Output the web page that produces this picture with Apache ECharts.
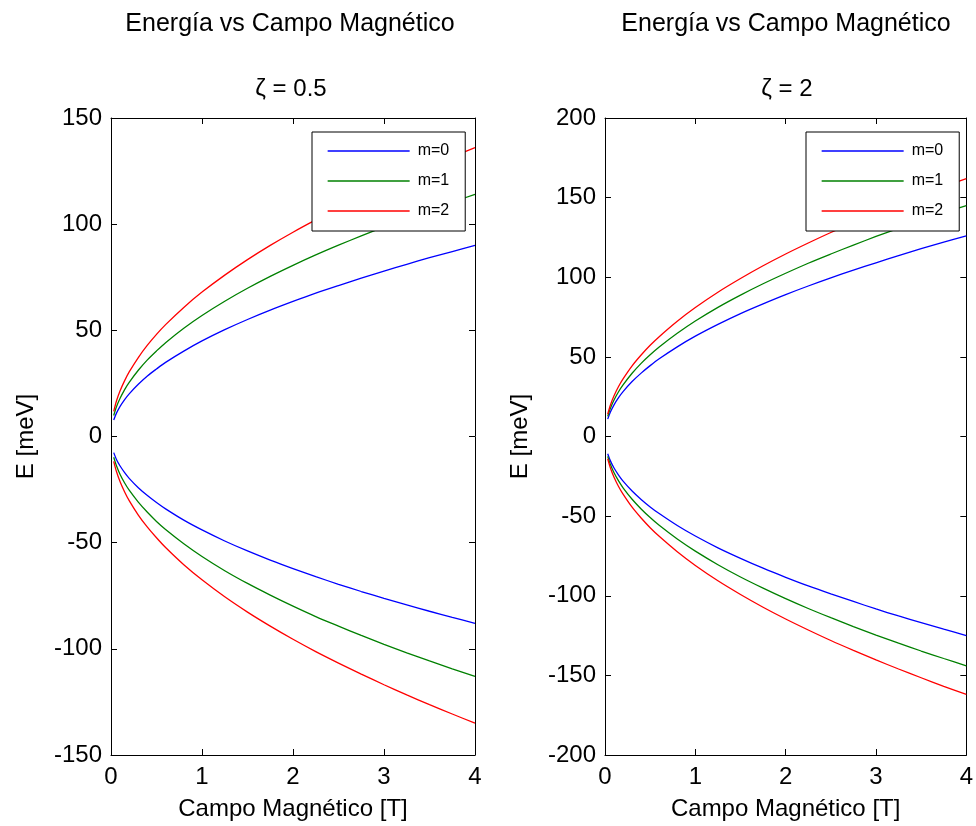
<!DOCTYPE html>
<html>
<head>
<meta charset="utf-8">
<script src="https://cdn.jsdelivr.net/npm/echarts@6/dist/echarts.min.js"></script>
<style>
  html, body { margin: 0; padding: 0; background: #fff; }
  #chart { width: 976px; height: 826px; }
</style>
</head>
<body>
<div id="chart"></div>
<script>
// Magnetic field samples [T]
const campoT = [0.03, 0.06, 0.1, 0.15, 0.2, 0.3, 0.4, 0.5, 0.6, 0.8, 1, 1.25, 1.5, 1.75, 2, 2.25, 2.5, 2.75, 3, 3.25, 3.5, 3.75, 4];

// Energy levels [meV], zeta = 0.5
const z05_m0_pos = [7.8, 11.0, 14.2, 17.4, 20.1, 24.6, 28.5, 31.8, 34.9, 40.2, 45.0, 50.3, 55.1, 59.5, 63.6, 67.5, 71.1, 74.6, 77.9, 81.1, 84.2, 87.1, 90.0];
const z05_m0_neg = [-7.6, -10.8, -13.9, -17.0, -19.7, -24.1, -27.8, -31.1, -34.1, -39.4, -44.0, -49.2, -53.9, -58.2, -62.2, -66.0, -69.6, -73.0, -76.2, -79.3, -82.3, -85.2, -88.0];
const z05_m1_pos = [9.9, 14.0, 18.0, 22.1, 25.5, 31.2, 36.1, 40.3, 44.2, 51.0, 57.0, 63.7, 69.8, 75.4, 80.6, 85.5, 90.1, 94.5, 98.7, 102.8, 106.6, 110.4, 114.0];
const z05_m1_neg = [-9.8, -13.8, -17.9, -21.9, -25.3, -30.9, -35.7, -40.0, -43.8, -50.5, -56.5, -63.2, -69.2, -74.7, -79.9, -84.8, -89.3, -93.7, -97.9, -101.9, -105.7, -109.4, -113.0];
const z05_m2_pos = [11.8, 16.7, 21.5, 26.3, 30.4, 37.2, 43.0, 48.1, 52.7, 60.8, 68.0, 76.0, 83.3, 90.0, 96.2, 102.0, 107.5, 112.8, 117.8, 122.6, 127.2, 131.7, 136.0];
const z05_m2_neg = [-11.7, -16.5, -21.3, -26.1, -30.2, -37.0, -42.7, -47.7, -52.3, -60.4, -67.5, -75.5, -82.7, -89.3, -95.5, -101.3, -106.7, -111.9, -116.9, -121.7, -126.3, -130.7, -135.0];

// Energy levels [meV], zeta = 2
const z2_m0_pos = [10.9, 15.4, 19.9, 24.4, 28.2, 34.5, 39.8, 44.5, 48.8, 56.3, 63.0, 70.4, 77.2, 83.3, 89.1, 94.5, 99.6, 104.5, 109.1, 113.6, 117.9, 122.0, 126.0];
const z2_m0_neg = [-10.8, -15.3, -19.8, -24.2, -28.0, -34.2, -39.5, -44.2, -48.4, -55.9, -62.5, -69.9, -76.5, -82.7, -88.4, -93.8, -98.8, -103.6, -108.3, -112.7, -116.9, -121.0, -125.0];
const z2_m1_pos = [12.6, 17.8, 22.9, 28.1, 32.4, 39.7, 45.9, 51.3, 56.2, 64.8, 72.5, 81.1, 88.8, 95.9, 102.5, 108.8, 114.6, 120.2, 125.6, 130.7, 135.6, 140.4, 145.0];
const z2_m1_neg = [-12.5, -17.6, -22.8, -27.9, -32.2, -39.4, -45.5, -50.9, -55.8, -64.4, -72.0, -80.5, -88.2, -95.2, -101.8, -108.0, -113.8, -119.4, -124.7, -129.8, -134.7, -139.4, -144.0];
const z2_m2_pos = [14.0, 19.8, 25.6, 31.4, 36.2, 44.4, 51.2, 57.3, 62.7, 72.4, 81.0, 90.6, 99.2, 107.2, 114.6, 121.5, 128.1, 134.3, 140.3, 146.0, 151.5, 156.9, 162.0];
const z2_m2_neg = [-14.0, -19.8, -25.6, -31.4, -36.2, -44.4, -51.2, -57.3, -62.7, -72.4, -81.0, -90.6, -99.2, -107.2, -114.6, -121.5, -128.1, -134.3, -140.3, -146.0, -151.5, -156.9, -162.0];

const levelNames = ['m=0', 'm=1', 'm=2'];
const levelColors = ['#0000ff', '#008000', '#ff0000'];
const xTicks = [0, 4, 1];           // min, max, step
const yRangeLeft = [-150, 150, 50];
const yRangeRight = [-200, 200, 50];

const FONT = '"Liberation Sans", Arial, sans-serif';
const chart = echarts.init(document.getElementById('chart'), null, { renderer: 'canvas' });

function pairs(ys) { return campoT.map((b, i) => [b, ys[i]]); }

const tickStyle = { show: true, inside: true, length: 6, lineStyle: { color: '#000', width: 1 } };
const lineStyleAxis = { show: true, onZero: false, lineStyle: { color: '#000', width: 1 } };

function xAxes(gridIndex) {
  return [
    {
      type: 'value', gridIndex, min: xTicks[0], max: xTicks[1], interval: xTicks[2],
      name: 'Campo Magnético [T]', nameLocation: 'middle', nameGap: 42,
      nameTextStyle: { color: '#000', fontSize: 24, fontFamily: FONT },
      axisLine: lineStyleAxis, axisTick: tickStyle,
      axisLabel: { color: '#000', fontSize: 24, fontFamily: FONT, margin: 10 },
      splitLine: { show: false }
    },
    {
      type: 'value', gridIndex, position: 'top', min: xTicks[0], max: xTicks[1], interval: xTicks[2],
      axisLine: lineStyleAxis, axisTick: tickStyle,
      axisLabel: { show: false }, splitLine: { show: false }
    }
  ];
}

function yAxes(gridIndex, r) {
  return [
    {
      type: 'value', gridIndex, min: r[0], max: r[1], interval: r[2],
      name: 'E [meV]', nameLocation: 'middle', nameGap: 73,
      nameTextStyle: { color: '#000', fontSize: 24, fontFamily: FONT },
      axisLine: lineStyleAxis, axisTick: tickStyle,
      axisLabel: { color: '#000', fontSize: 24, fontFamily: FONT, margin: 9 },
      splitLine: { show: false }
    },
    {
      type: 'value', gridIndex, position: 'right', min: r[0], max: r[1], interval: r[2],
      axisLine: lineStyleAxis, axisTick: tickStyle,
      axisLabel: { show: false }, splitLine: { show: false }
    }
  ];
}

function lineSeries(name, color, data, xi, yi) {
  return {
    type: 'line', name, data: pairs(data), xAxisIndex: xi, yAxisIndex: yi,
    symbol: 'none', smooth: 0.3, silent: true,
    lineStyle: { color, width: 1.3 }, itemStyle: { color }
  };
}

const leftSets = [[z05_m0_pos, z05_m0_neg], [z05_m1_pos, z05_m1_neg], [z05_m2_pos, z05_m2_neg]];
const rightSets = [[z2_m0_pos, z2_m0_neg], [z2_m1_pos, z2_m1_neg], [z2_m2_pos, z2_m2_neg]];

const series = [];
leftSets.forEach((s, i) => {
  series.push(lineSeries(levelNames[i], levelColors[i], s[0], 0, 0));
  series.push(lineSeries(levelNames[i], levelColors[i], s[1], 0, 0));
});
rightSets.forEach((s, i) => {
  series.push(lineSeries(levelNames[i], levelColors[i], s[0], 2, 2));
  series.push(lineSeries(levelNames[i], levelColors[i], s[1], 2, 2));
});

// Boxed legend with plain line samples (no marker)
function legendAt(left) {
  return {
    data: levelNames, orient: 'vertical', left, top: 132,
    padding: [11, 16, 12, 15], itemGap: 14, itemWidth: 82, itemHeight: 14,
    backgroundColor: '#fff', borderColor: '#000', borderWidth: 1, borderRadius: 0,
    selectedMode: false, z: 10,
    itemStyle: { opacity: 0, borderWidth: 0 },
    lineStyle: { width: 1.3 },
    textStyle: { color: '#000', fontSize: 16, fontFamily: FONT, padding: [0, 0, 0, 3] }
  };
}

function textEl(text, x, y, size) {
  return {
    type: 'text', x, y,
    style: { text, fill: '#000', font: size + 'px ' + FONT, textAlign: 'center', textVerticalAlign: 'middle' }
  };
}

chart.setOption({
  animation: false,
  backgroundColor: '#fff',
  grid: [
    { left: 111, right: 501, top: 118, bottom: 71, containLabel: false },
    { left: 605, right: 6, top: 118, bottom: 71, containLabel: false }
  ],
  xAxis: xAxes(0).concat(xAxes(1)),
  yAxis: yAxes(0, yRangeLeft).concat(yAxes(1, yRangeRight)),
  legend: [legendAt(312), legendAt(806)],
  series,
  graphic: [
    textEl('Energía vs Campo Magnético', 290, 24, 25),
    textEl('ζ = 0.5', 291, 89, 24),
    textEl('Energía vs Campo Magnético', 786, 24, 25),
    textEl('ζ = 2', 787, 89, 24)
  ]
});
</script>
</body>
</html>
